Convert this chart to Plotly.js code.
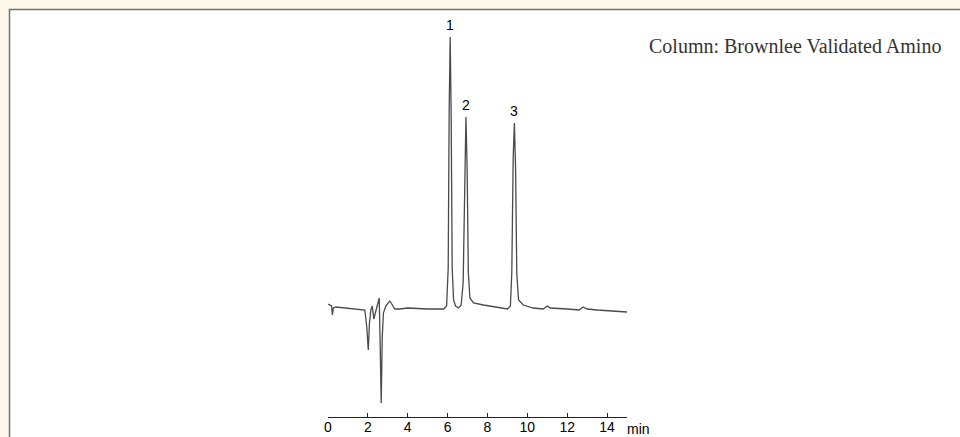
<!DOCTYPE html>
<html>
<head>
<meta charset="utf-8">
<script src="https://cdn.plot.ly/plotly-3.0.1.min.js"></script>
<style>html,body{margin:0;padding:0;background:#FEF8EA;}#chart{width:960px;height:437px;}</style>
</head>
<body>
<div id="chart"></div>
<script>
// Retention time (min) and detector signal (arbitrary units)
const timeMin = [0.0, 0.1, 0.18, 0.22, 0.27, 0.4, 1.0, 1.5, 1.85, 1.95, 2.02, 2.08, 2.15, 2.22, 2.3, 2.4, 2.5, 2.57, 2.62, 2.67, 2.72, 2.78, 2.9, 3.0, 3.1, 3.2, 3.35, 3.6, 4.0, 5.0, 5.8, 5.95, 6.03, 6.08, 6.13, 6.18, 6.23, 6.3, 6.4, 6.55, 6.68, 6.78, 6.86, 6.92, 6.98, 7.04, 7.12, 7.3, 7.8, 8.5, 9.0, 9.15, 9.22, 9.29, 9.35, 9.41, 9.47, 9.56, 9.8, 10.3, 10.8, 11.0, 11.15, 12.0, 12.6, 12.8, 13.0, 13.5, 14.2, 15.0];
const signal  = [4, 3, 2, -7, 0, 1, 0, -1, -2, -20, -42, -15, -2, 2, -11, -3, 5, 10, -40, -95, -30, -5, 2, 5, 7, 4, -1, -1, 0, -1, -1, 2, 40, 200, 271, 190, 40, 8, 2, 0, 3, 25, 150, 191, 140, 35, 10, 5, 3, 1, -1, 2, 35, 150, 185, 140, 35, 8, 3, 0, -1, 2, 0, -1, -2, 1, -1, -2, -3, -4];
const peakLabels = ["1", "2", "3"];
const peakTimes = [6.13, 6.92, 9.35];
const tickVals = [0, 2, 4, 6, 8, 10, 12, 14];
const tickText = ["0", "2", "4", "6", "8", "10", "12", "14"];
const unitLabel = "min";
const columnText = "Column: Brownlee Validated Amino";

const W = 960, H = 437;
const px = v => v / W;
const py = v => 1 - v / H;
const sans = 'Liberation Sans, Arial, sans-serif';

const annotations = peakLabels.map((lab, i) => ({
  x: peakTimes[i], xref: 'x',
  y: signal[timeMin.indexOf(peakTimes[i])], yref: 'y',
  text: lab, showarrow: false, xanchor: 'center', yanchor: 'bottom', yshift: 2,
  font: {family: sans, size: 14, color: '#000'}
}));
annotations.push({
  x: px(625), xref: 'paper', y: py(428.5), yref: 'paper', text: unitLabel,
  showarrow: false, xanchor: 'left', yanchor: 'middle',
  font: {family: sans, size: 14, color: '#000'}
});
annotations.push({
  x: px(647), xref: 'paper', y: py(46), yref: 'paper', text: columnText,
  showarrow: false, xanchor: 'left', yanchor: 'middle',
  font: {family: 'Liberation Serif, DejaVu Serif, serif', size: 20, color: '#333'}
});

const trace = {
  x: timeMin, y: signal, type: 'scatter', mode: 'lines',
  line: {color: '#4a4a4a', width: 1.3}, hoverinfo: 'skip'
};

const layout = {
  width: W, height: H,
  margin: {l: 0, r: 0, t: 0, b: 0},
  paper_bgcolor: '#FEF8EA',
  plot_bgcolor: 'rgba(0,0,0,0)',
  showlegend: false,
  xaxis: {
    domain: [px(328), px(627)], range: [0, 15],
    showgrid: false, zeroline: false, showline: true, linecolor: '#222', linewidth: 1,
    ticks: 'inside', ticklen: 4, tickcolor: '#222', tickwidth: 1,
    tickmode: 'array', tickvals: tickVals, ticktext: tickText,
    tickfont: {family: sans, size: 14, color: '#000'},
    ticklabelstandoff: -3,
    fixedrange: true
  },
  yaxis: {
    domain: [py(417), 1], range: [-109, 308],
    visible: false, showgrid: false, zeroline: false, fixedrange: true
  },
  shapes: [{
    type: 'rect', xref: 'paper', yref: 'paper',
    x0: px(9.5), x1: px(975), y0: py(450), y1: py(9.5),
    fillcolor: '#ffffff', line: {color: '#707070', width: 1.5}, layer: 'below'
  }],
  annotations: annotations
};

Plotly.newPlot('chart', [trace], layout, {staticPlot: true, displayModeBar: false});
</script>
</body>
</html>
